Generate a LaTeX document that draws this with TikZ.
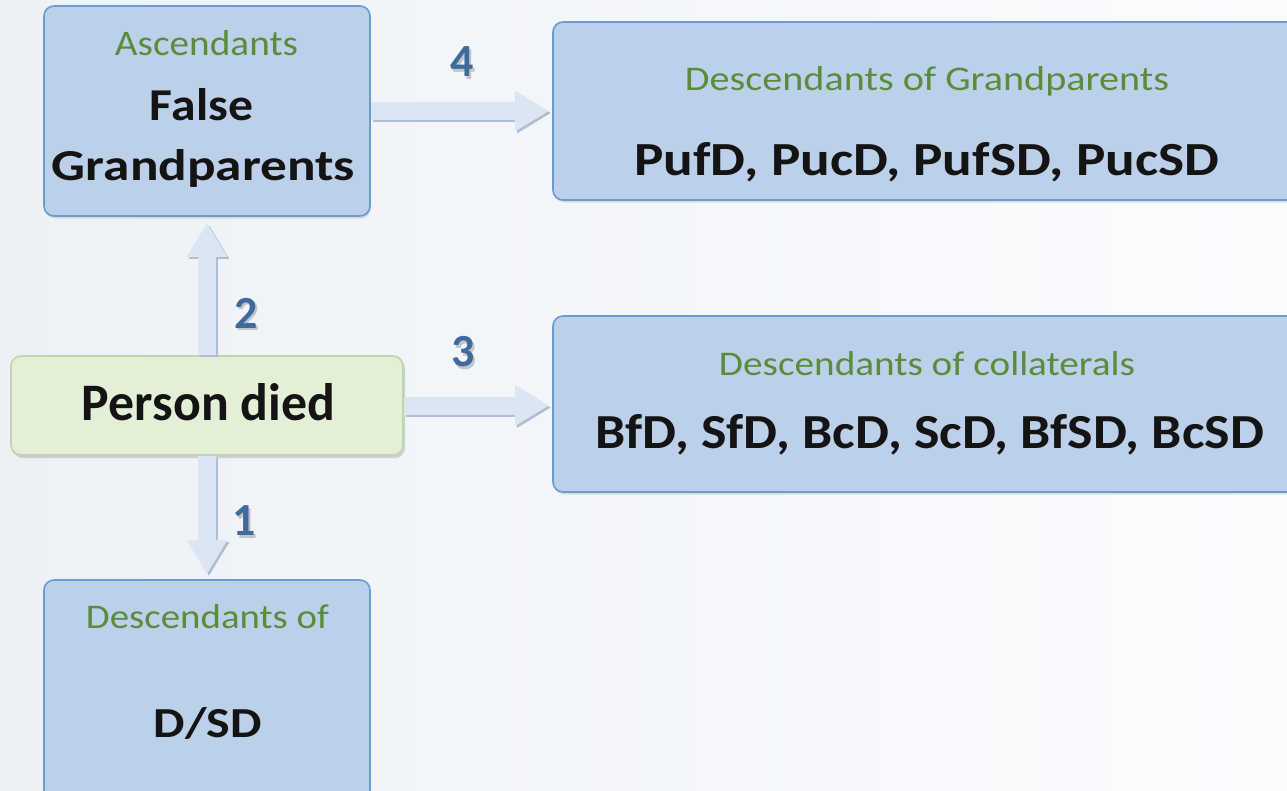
\documentclass[tikz,border=0pt]{standalone}
\usepackage{fontspec}
\setmainfont{Carlito}
\usetikzlibrary{arrows.meta,shadows,calc}
\definecolor{bxfill}{HTML}{BDD0E9}
\definecolor{bxline}{HTML}{6C9BD0}
\definecolor{pfill}{HTML}{E4EFD7}
\definecolor{pline}{HTML}{C2D5A8}
\definecolor{subgreen}{HTML}{5A8C3C}
\definecolor{numblue}{HTML}{3F6B9C}
\definecolor{arrfill}{HTML}{DCE6F2}
\definecolor{arrshade}{HTML}{AFBFD3}
\definecolor{bgleft}{HTML}{EDF1F6}
\definecolor{bgright}{HTML}{FBFCFE}
\newcommand\fitxt[3]{\resizebox{#1pt}{#2pt}{#3}}
\begin{document}
\begin{tikzpicture}[x=1pt,y=-1pt,
  bluebox/.style={draw=bxline, line width=1.6pt, fill=bxfill, rounded corners=10pt,
    drop shadow={shadow xshift=1pt, shadow yshift=-2.5pt, opacity=0.22}},
  greenbox/.style={draw=pline, line width=1.6pt, fill=pfill, rounded corners=10pt,
    drop shadow={shadow xshift=2pt, shadow yshift=-3pt, opacity=0.3}},
  txt/.style={anchor=base, inner sep=0pt, text=black!92, font=\bfseries},
  subtxt/.style={anchor=base, inner sep=0pt, text=subgreen},
  fatarrow/.style={line width=18pt, draw=arrfill, -{Triangle[length=34pt,width=38pt]}},
  fatshade/.style={line width=18pt, draw=arrshade, -{Triangle[length=34pt,width=38pt]},
    transform canvas={xshift=2pt,yshift=-2pt}},
  numtxt/.style={inner sep=0pt, text=numblue, font=\fontsize{46}{46}\selectfont\bfseries},
  numshade/.style={inner sep=0pt, text=black!45, opacity=0.45, font=\fontsize{46}{46}\selectfont\bfseries},
]
\useasboundingbox (0,0) rectangle (1287,790);
\clip (0,0) rectangle (1287,790);
\fill[left color=bgleft, right color=bgright] (0,0) rectangle (1287,790);

% boxes
\node[bluebox, minimum width=326pt, minimum height=210pt] (A) at (207,111) {};
\node[bluebox, minimum width=747pt, minimum height=178pt] (G) at (926.5,111) {};
\node[bluebox, minimum width=747pt, minimum height=176pt] (C) at (926.5,404) {};
\node[greenbox, minimum width=392pt, minimum height=99pt] (P) at (207,405.5) {};
\node[bluebox, minimum width=326pt, minimum height=220pt] (D) at (207,690) {};

% arrows
\draw[fatshade, shorten >=6pt] (P.north) -- (A.south);
\draw[fatarrow, shorten >=6pt] (P.north) -- (A.south);
\draw[fatshade, shorten >=5pt] (P.south) -- (D.north);
\draw[fatarrow, shorten >=5pt] (P.south) -- (D.north);
\draw[fatshade, shorten >=3pt] (P.east) -- (P.east -| C.west);
\draw[fatarrow, shorten >=3pt] (P.east) -- (P.east -| C.west);
\draw[fatshade, shorten >=3pt] (A.east) -- (G.west);
\draw[fatarrow, shorten >=3pt] (A.east) -- (G.west);

% texts
\node[subtxt] (tA1) at (206.5,55) {\fitxt{183}{25}{Ascendants}};
\node[txt] (tA2) at (201.5,120) {\fitxt{103}{32}{False}};
\node[txt] (tA3) at (203.5,180) {\fitxt{303}{31}{Grandparents}};
\node[subtxt] (tG1) at (927,90) {\fitxt{484}{24}{Descendants of Grandparents}};
\node[txt] (tG2) at (927,175) {\fitxt{585}{33}{PufD, PucD, PufSD, PucSD}};
\node[subtxt] (tC1) at (927,375) {\fitxt{416}{24}{Descendants of collaterals}};
\node[txt] (tC2) at (930,448) {\fitxt{668}{34}{BfD, SfD, BcD, ScD, BfSD, BcSD}};
\node[txt] (tP) at (208.5,420) {\fitxt{253}{37}{Person died}};
\node[subtxt] (tD1) at (207.5,628) {\fitxt{243}{24}{Descendants of}};
\node[txt] (tD2) at (208,737) {\fitxt{108}{30}{D/SD}};

% numbers
\node[numshade] (n4s) at (464.5,64.5) {4};
\node[numtxt] (n4) at (462,62) {4};
\node[numshade] (n3s) at (465.5,354.5) {3};
\node[numtxt] (n3) at (463,352) {3};
\node[numshade] (n2s) at (248.5,315.5) {2};
\node[numtxt] (n2) at (246,313) {2};
\node[numshade] (n1s) at (246.5,523.5) {1};
\node[numtxt] (n1) at (244,521) {1};
\end{tikzpicture}
\end{document}
